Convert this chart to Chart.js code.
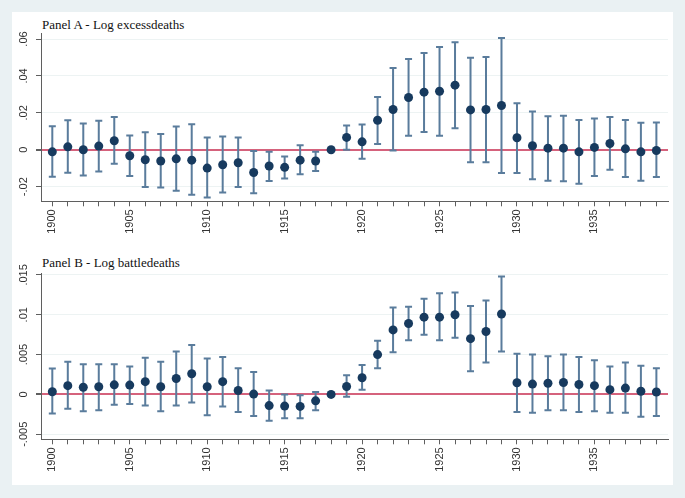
<!DOCTYPE html>
<html>
<head>
<meta charset="utf-8">
<script src="https://cdn.jsdelivr.net/npm/chart.js@4.4.1/dist/chart.umd.min.js"></script>
<style>
    html, body { margin: 0; padding: 0; }
    body { width: 685px; height: 498px; background: #eaf1f3; position: relative; overflow: hidden; }
    .panel { position: absolute; left: 12px; top: 12px; width: 661px; height: 473px; background: #fff; }
    .box { position: absolute; left: 0; width: 661px; }
    .title { position: absolute; left: 30px; font: 13px "Liberation Serif", "DejaVu Serif", serif; color: #111; white-space: nowrap; }
</style>
</head>
<body>
<div class="panel">
    <div class="title" style="top:5px">Panel A - Log excessdeaths</div>
    <div class="box" style="top:0;height:234px"><canvas id="chartA" width="661" height="234"></canvas></div>
    <div class="title" style="top:243px">Panel B - Log battledeaths</div>
    <div class="box" style="top:234px;height:239px"><canvas id="chartB" width="661" height="239"></canvas></div>
</div>
<script>
// years on the x axis
const years = [];
for (let y = 1900; y <= 1939; y++) years.push(y);

// Panel A - Log excessdeaths: estimate, upper and lower bound
const excessEst = [-0.0011, 0.0016, 0.0000, 0.0020, 0.0049, -0.0032, -0.0054, -0.0061, -0.0049, -0.0056,
    -0.0099, -0.0081, -0.0070, -0.0123, -0.0088, -0.0095, -0.0056, -0.0061, 0.0000, 0.0067,
    0.0043, 0.0160, 0.0218, 0.0283, 0.0312, 0.0317, 0.0350, 0.0216, 0.0218, 0.0240,
    0.0065, 0.0022, 0.0009, 0.0009, -0.0011, 0.0013, 0.0034, 0.0005, -0.0011, -0.0004];
const excessHi = [0.0128, 0.0160, 0.0142, 0.0157, 0.0177, 0.0077, 0.0095, 0.0085, 0.0126, 0.0139,
    0.0067, 0.0072, 0.0067, -0.0007, -0.0011, -0.0036, 0.0025, -0.0011, 0.0000, 0.0132,
    0.0137, 0.0286, 0.0443, 0.0492, 0.0524, 0.0557, 0.0582, 0.0499, 0.0503, 0.0605,
    0.0252, 0.0207, 0.0182, 0.0184, 0.0162, 0.0169, 0.0177, 0.0162, 0.0146, 0.0148];
const excessLo = [-0.0146, -0.0124, -0.0139, -0.0117, -0.0076, -0.0142, -0.0202, -0.0204, -0.0222, -0.0243,
    -0.0259, -0.0231, -0.0202, -0.0236, -0.0169, -0.0155, -0.0133, -0.0115, 0.0000, 0.0000,
    -0.0049, 0.0031, -0.0004, 0.0076, 0.0097, 0.0076, 0.0117, -0.0067, -0.0067, -0.0126,
    -0.0126, -0.0160, -0.0168, -0.0171, -0.0184, -0.0142, -0.0108, -0.0148, -0.0168, -0.0148];

// Panel B - Log battledeaths
const battleEst = [0.00033, 0.0011, 0.0009, 0.00096, 0.0012, 0.00117, 0.0016, 0.00096, 0.0020, 0.0026,
    0.00096, 0.0016, 0.0005, 0.00004, -0.0014, -0.00146, -0.0015, -0.0008, 0.0000, 0.0010,
    0.0021, 0.0050, 0.0081, 0.0089, 0.0097, 0.0097, 0.0100, 0.0070, 0.0079, 0.0101,
    0.00146, 0.0013, 0.0014, 0.0015, 0.00125, 0.0011, 0.0006, 0.0008, 0.0004, 0.0003];
const battleHi = [0.00325, 0.0041, 0.0038, 0.0038, 0.0038, 0.0035, 0.0046, 0.0041, 0.0054, 0.0062,
    0.0045, 0.0047, 0.0033, 0.0028, 0.0005, 0.0000, -0.0001, 0.0003, 0.0000, 0.0024,
    0.0037, 0.00675, 0.0109, 0.0110, 0.0120, 0.0127, 0.0128, 0.0111, 0.0118, 0.0148,
    0.0051, 0.0050, 0.0048, 0.0050, 0.0047, 0.0043, 0.0035, 0.0040, 0.0036, 0.0033];
const battleLo = [-0.0024, -0.0018, -0.0021, -0.0020, -0.0013, -0.0012, -0.0014, -0.0021, -0.0014, -0.0010,
    -0.0026, -0.0015, -0.0022, -0.0027, -0.0033, -0.0030, -0.0030, -0.0020, 0.0000, -0.0003,
    0.0006, 0.0033, 0.0053, 0.0068, 0.0075, 0.0068, 0.0071, 0.0029, 0.0040, 0.0054,
    -0.0022, -0.0023, -0.0020, -0.0020, -0.0022, -0.0021, -0.0023, -0.0023, -0.0028, -0.0027];

// tick labels
const xTickYears = years;
const yTicksA = [-0.02, 0, 0.02, 0.04, 0.06];
const yTicksB = [-0.005, 0, 0.005, 0.01, 0.015];

const AXIS = '#5f5f5f';
const DOT = '#173a5e';
const BAR = '#5a7c9c';
const ZERO = '#d5627c';
const GRID = '#edf3f3';

// Stata style: .02, -.005, 0
const fmt = v => v === 0 ? '0' : (v < 0 ? '-' : '') + String(Math.abs(v)).replace(/^0/, '');

// whiskers with caps, drawn under the markers
const errorBars = {
    id: 'errorBars',
    beforeDatasetsDraw(chart, args, opts) {
        const { ctx, scales: { x, y } } = chart;
        ctx.save();
        ctx.strokeStyle = BAR;
        ctx.lineWidth = 2;
        opts.lo.forEach((lo, i) => {
            const hi = opts.hi[i];
            if (lo === hi) return;
            const px = x.getPixelForValue(years[i]);
            const top = y.getPixelForValue(hi);
            const bot = y.getPixelForValue(lo);
            ctx.beginPath();
            ctx.moveTo(px, top); ctx.lineTo(px, bot);
            ctx.moveTo(px - 3.5, top); ctx.lineTo(px + 3.5, top);
            ctx.moveTo(px - 3.5, bot); ctx.lineTo(px + 3.5, bot);
            ctx.stroke();
        });
        ctx.restore();
    }
};

// vertical y tick labels (Chart.js does not rotate y ticks)
const yLabels = {
    id: 'yLabels',
    afterDraw(chart) {
        const { ctx, scales: { y }, chartArea } = chart;
        ctx.save();
        ctx.font = '11px "Liberation Sans", Arial, sans-serif';
        ctx.fillStyle = '#333';
        ctx.textAlign = 'center';
        ctx.textBaseline = 'middle';
        y.ticks.forEach(t => {
            ctx.save();
            ctx.translate(chartArea.left - 17, y.getPixelForValue(t.value));
            ctx.rotate(-Math.PI / 2);
            ctx.fillText(fmt(t.value), 0, 0);
            ctx.restore();
        });
        ctx.restore();
    }
};

function makeChart(id, est, lo, hi, yTicks, yMin, yMax, pad) {
    return new Chart(document.getElementById(id), {
        type: 'scatter',
        data: {
            datasets: [{
                data: years.map((yr, i) => ({ x: yr, y: est[i] })),
                pointRadius: 4.5,
                pointHoverRadius: 4.5,
                backgroundColor: DOT,
                borderWidth: 0
            }]
        },
        plugins: [errorBars, yLabels],
        options: {
            responsive: false,
            animation: false,
            events: [],
            layout: { padding: pad },
            plugins: {
                legend: { display: false },
                tooltip: { enabled: false },
                errorBars: { lo: lo, hi: hi }
            },
            scales: {
                x: {
                    type: 'linear',
                    min: 1899.27,
                    max: 1939.75,
                    afterBuildTicks: s => { s.ticks = xTickYears.map(v => ({ value: v })); },
                    afterFit: s => { s.height = 40; },
                    ticks: {
                        autoSkip: false,
                        minRotation: 90,
                        maxRotation: 90,
                        padding: 3,
                        color: '#333',
                        font: { family: '"Liberation Sans", Arial, sans-serif', size: 11 },
                        callback: v => v % 5 === 0 ? String(v) : ''
                    },
                    grid: { drawOnChartArea: false, drawTicks: true, tickLength: 5, color: AXIS, lineWidth: 1 },
                    border: { display: true, color: AXIS, width: 1 }
                },
                y: {
                    type: 'linear',
                    min: yMin,
                    max: yMax,
                    afterBuildTicks: s => { s.ticks = yTicks.map(v => ({ value: v })); },
                    afterFit: s => { s.width = 29; },
                    ticks: { display: false },
                    grid: {
                        drawTicks: true,
                        tickLength: 5,
                        tickColor: AXIS,
                        color: c => c.tick && c.tick.value === 0 ? ZERO : GRID,
                        lineWidth: c => c.tick && c.tick.value === 0 ? 2 : 1
                    },
                    border: { display: true, color: AXIS, width: 1 }
                }
            }
        }
    });
}

makeChart('chartA', excessEst, excessLo, excessHi, yTicksA, -0.0279, 0.0631,
    { top: 21.3, bottom: 4.7, left: 0, right: 5 });
makeChart('chartB', battleEst, battleLo, battleHi, yTicksB, -0.00563, 0.0152,
    { top: 27.3, bottom: 5.7, left: 0, right: 5 });
</script>
</body>
</html>
